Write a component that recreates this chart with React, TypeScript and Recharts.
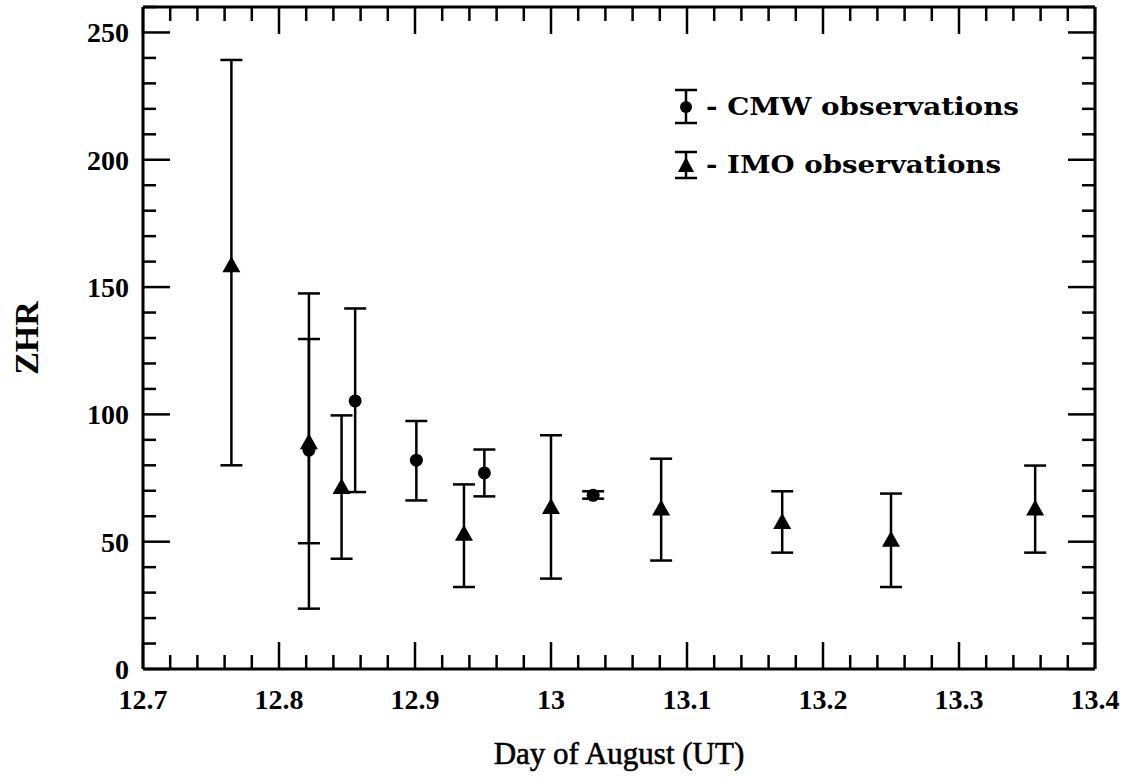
import { ScatterChart, Scatter, XAxis, YAxis, ErrorBar, ReferenceLine, Legend, Label } from "recharts";

// tick labels
const xMajorTicks = [12.7, 12.8, 12.9, 13, 13.1, 13.2, 13.3, 13.4];
const yMajorTicks = [0, 50, 100, 150, 200, 250];

// CMW observations (circles)
const cmwDay = [12.822, 12.856, 12.901, 12.951, 13.031];
const cmwZhr = [86, 105.3, 82, 77, 68.2];
const cmwLow = [49.4, 69.5, 66.2, 67.8, 66.9];
const cmwHigh = [129.6, 141.6, 97.4, 86.2, 69.8];

// IMO observations (triangles)
const imoDay = [12.765, 12.822, 12.846, 12.936, 13.0, 13.081, 13.17, 13.25, 13.356];
const imoZhr = [158.6, 89.1, 71.5, 53.1, 63.6, 63, 57.7, 50.8, 63];
const imoLow = [80, 23.7, 43.3, 32.2, 35.5, 42.6, 45.7, 32.2, 45.7];
const imoHigh = [239.2, 147.5, 99.6, 72.5, 91.8, 82.6, 69.8, 68.9, 79.9];

const W = 1125;
const H = 780;
const AXIS_W = 1;
const MARGIN = { top: 7, right: 30, bottom: 110, left: 142 };
const PLOT_W = W - MARGIN.left - AXIS_W - MARGIN.right;
const PLOT_H = H - MARGIN.top - MARGIN.bottom - AXIS_W;

const TICK_FONT = "'Liberation Serif', 'Times New Roman', serif";

// minor ticks every 0.02 day and every 10 ZHR
const xTicks: number[] = [];
for (let i = 0; i <= 35; i++) xTicks.push(Math.round((12.7 + i * 0.02) * 100) / 100);
const yTicks: number[] = [];
for (let v = 0; v <= 260; v += 10) yTicks.push(v);

const cmwData = cmwDay.map((day, i) => ({
  day,
  zhr: cmwZhr[i],
  err: [cmwZhr[i] - cmwLow[i], cmwHigh[i] - cmwZhr[i]],
}));
const imoData = imoDay.map((day, i) => ({
  day,
  zhr: imoZhr[i],
  err: [imoZhr[i] - imoLow[i], imoHigh[i] - imoZhr[i]],
}));

const isXMajor = (v: number) => xMajorTicks.some((t) => Math.abs(t - v) < 1e-6);

function XTick(props: any) {
  const { x, y, payload } = props;
  const v = payload.value;
  const major = isXMajor(v);
  const len = major ? 27 : 14;
  return (
    <g stroke="#000" strokeWidth={2.5}>
      <line x1={x} x2={x} y1={y} y2={y - len} />
      <line x1={x} x2={x} y1={y - PLOT_H} y2={y - PLOT_H + len} />
      {major && (
        <text x={x} y={y + 40} textAnchor="middle" stroke="none" fill="#000"
          fontFamily={TICK_FONT} fontWeight="bold" fontSize={28}>
          {String(v)}
        </text>
      )}
    </g>
  );
}

function YTick(props: any) {
  const { x, y, payload } = props;
  const v = payload.value;
  const major = yMajorTicks.includes(v);
  const len = major ? 27 : 13;
  return (
    <g stroke="#000" strokeWidth={2.5}>
      <line x1={x} x2={x + len} y1={y} y2={y} />
      <line x1={x + PLOT_W} x2={x + PLOT_W - len} y1={y} y2={y} />
      {major && (
        <text x={x - 14} y={y + 10} textAnchor="end" stroke="none" fill="#000"
          fontFamily={TICK_FONT} fontWeight="bold" fontSize={28}>
          {String(v)}
        </text>
      )}
    </g>
  );
}

const CircleDot = (p: any) => <circle cx={p.cx} cy={p.cy} r={6.5} fill="#000" />;
const TriangleDot = (p: any) => (
  <polygon
    points={`${p.cx},${p.cy - 9} ${p.cx - 9},${p.cy + 7} ${p.cx + 9},${p.cy + 7}`}
    fill="#000"
  />
);

function LegendBox() {
  const legendFont = "'DejaVu Serif', serif";
  return (
    <svg width={380} height={110} style={{ overflow: "visible" }}>
      <g stroke="#000" strokeWidth={2.5}>
        <line x1={26} x2={26} y1={10} y2={43} />
        <line x1={15} x2={37} y1={10} y2={10} />
        <line x1={15} x2={37} y1={43} y2={43} />
        <line x1={26} x2={26} y1={72} y2={98} />
        <line x1={15} x2={37} y1={72} y2={72} />
        <line x1={15} x2={37} y1={98} y2={98} />
      </g>
      <circle cx={26} cy={27} r={6} fill="#000" />
      <polygon points="26,77 18,92 34,92" fill="#000" />
      <text x={46} y={35} fontFamily={legendFont} fontWeight="bold" fontSize={25}
        textLength={313} lengthAdjust="spacingAndGlyphs" fill="#000">
        - CMW observations
      </text>
      <text x={46} y={93} fontFamily={legendFont} fontWeight="bold" fontSize={25}
        textLength={295} lengthAdjust="spacingAndGlyphs" fill="#000">
        - IMO observations
      </text>
    </svg>
  );
}

export default function App() {
  return (
    <div style={{ position: "absolute", left: 0, top: 0, background: "#fff" }}>
      <ScatterChart width={W} height={H} margin={MARGIN}>
        <XAxis
          type="number"
          dataKey="day"
          domain={[12.7, 13.4]}
          ticks={xTicks}
          interval={0}
          height={AXIS_W}
          tickSize={0}
          tickMargin={0}
          tickLine={false}
          axisLine={{ stroke: "#000", strokeWidth: 3 }}
          tick={(p: any) => <XTick {...p} />}
          allowDataOverflow
        >
          <Label
            content={() => (
              <text x={MARGIN.left + AXIS_W + PLOT_W / 2} y={MARGIN.top + PLOT_H + 95} textAnchor="middle"
                fontFamily={TICK_FONT} fontSize={31} fill="#000" stroke="#000" strokeWidth={0.6}>
                Day of August (UT)
              </text>
            )}
          />
        </XAxis>
        <YAxis
          type="number"
          dataKey="zhr"
          domain={[0, 260]}
          ticks={yTicks}
          interval={0}
          width={AXIS_W}
          tickSize={0}
          tickMargin={0}
          tickLine={false}
          axisLine={{ stroke: "#000", strokeWidth: 3 }}
          tick={(p: any) => <YTick {...p} />}
          allowDataOverflow
        >
          <Label
            content={() => {
              const cy = MARGIN.top + PLOT_H / 2;
              return (
                <text x={26} y={cy} transform={`rotate(-90 26 ${cy})`} textAnchor="middle"
                  dominantBaseline="central" fontFamily={TICK_FONT} fontWeight="bold"
                  fontSize={34} fill="#000">
                  ZHR
                </text>
              );
            }}
          />
        </YAxis>
        <ReferenceLine x={13.4} stroke="#000" strokeWidth={3} />
        <ReferenceLine y={260} stroke="#000" strokeWidth={3} />
        <Legend
          layout="vertical"
          align="center"
          verticalAlign="middle"
          content={() => <LegendBox />}
          wrapperStyle={{ left: 660, top: 80, width: 380, height: 110 }}
        />
        <Scatter name="CMW observations" data={cmwData} shape={CircleDot} isAnimationActive={false}>
          <ErrorBar dataKey="err" direction="y" width={11} stroke="#000" strokeWidth={2.5} />
        </Scatter>
        <Scatter name="IMO observations" data={imoData} shape={TriangleDot} isAnimationActive={false}>
          <ErrorBar dataKey="err" direction="y" width={11} stroke="#000" strokeWidth={2.5} />
        </Scatter>
      </ScatterChart>
    </div>
  );
}
